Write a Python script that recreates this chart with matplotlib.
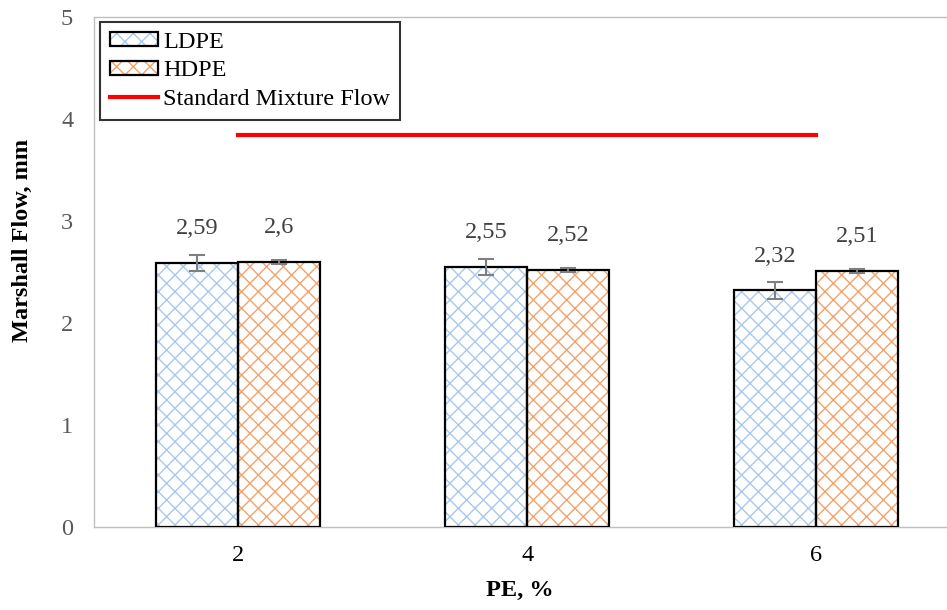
import matplotlib
matplotlib.use("Agg")
import matplotlib.pyplot as plt
from matplotlib.patches import Patch
from matplotlib.lines import Line2D
import numpy as np

categories = ["2", "4", "6"]
ldpe = [2.59, 2.55, 2.32]
hdpe = [2.60, 2.52, 2.51]
ldpe_err = [0.08, 0.08, 0.08]
hdpe_err = [0.02, 0.02, 0.02]
standard_flow = 3.84
y_ticks = [0, 1, 2, 3, 4, 5]

plt.rcParams['font.family'] = ['Liberation Serif', 'DejaVu Serif']
plt.rcParams['hatch.linewidth'] = 1.0

fig = plt.figure(figsize=(9.47, 6.10), dpi=100)
ax = fig.add_axes([94/947, 83/610, (960.5-94)/947, (527-17)/610])

x = np.arange(len(categories))
w = 0.284
blue_h = '#A8C8EE'
orange_h = '#F4A26A'
gray = '#7F7F7F'
fs = 17.5

for vals, errs, off, hc in [(ldpe, ldpe_err, -w/2, blue_h), (hdpe, hdpe_err, w/2, orange_h)]:
    ax.bar(x + off, vals, w, color='white', edgecolor=hc, hatch='xx', linewidth=0, zorder=2)
    ax.bar(x + off, vals, w, color='none', edgecolor='black', linewidth=1.6, zorder=3,
           yerr=errs, error_kw=dict(ecolor=gray, elinewidth=1.5, capsize=6, capthick=1.5, zorder=4))
    for xi, v in zip(x + off, vals):
        ax.annotate(f"{v:g}".replace('.', ','), (xi, v), xytext=(0, 24.5), textcoords='offset points',
                    ha='center', va='center', fontsize=fs, color='#404040')

ax.plot([x[0], x[-1]], [standard_flow, standard_flow], color='#FF0000', lw=3, zorder=3)

ax.set_xlim(-0.5, 2.5)
ax.set_ylim(0, 5)
ax.set_yticks(y_ticks)
ax.set_xticks(x)
ax.set_xticklabels(categories)
ax.tick_params(axis='y', length=0, pad=15, labelsize=fs, labelcolor='#595959')
ax.tick_params(axis='x', length=0, pad=13, labelsize=fs, labelcolor='black')
for s in ax.spines.values():
    s.set_color('#BFBFBF')
    s.set_linewidth(1.0)

fig.text(520/947, 1 - 590/610, "PE, %", fontsize=17.5, fontweight='bold', ha='center', va='center')
fig.text(22/947, 1 - 240/610, "Marshall Flow, mm", fontsize=17.5, fontweight='bold',
         ha='center', va='center', rotation=90)

h_ldpe = (Patch(facecolor='white', edgecolor=blue_h, hatch='xx', linewidth=0),
          Patch(facecolor='none', edgecolor='black', linewidth=1.6))
h_hdpe = (Patch(facecolor='white', edgecolor=orange_h, hatch='xx', linewidth=0),
          Patch(facecolor='none', edgecolor='black', linewidth=1.6))
h_std = Line2D([], [], color='#FF0000', lw=3)
leg = ax.legend([h_ldpe, h_hdpe, h_std], ["LDPE", "HDPE", "Standard Mixture Flow"],
                loc='upper left', bbox_to_anchor=(6/866.5, 1 - 5/510), fontsize=fs, frameon=True,
                fancybox=False, edgecolor='black', handlelength=2.0, handleheight=0.5,
                handletextpad=0.2, labelspacing=0.32, borderpad=0.4, borderaxespad=0.0)
leg.get_frame().set_linewidth(1.5)

fig.savefig("out.png", dpi=100)
